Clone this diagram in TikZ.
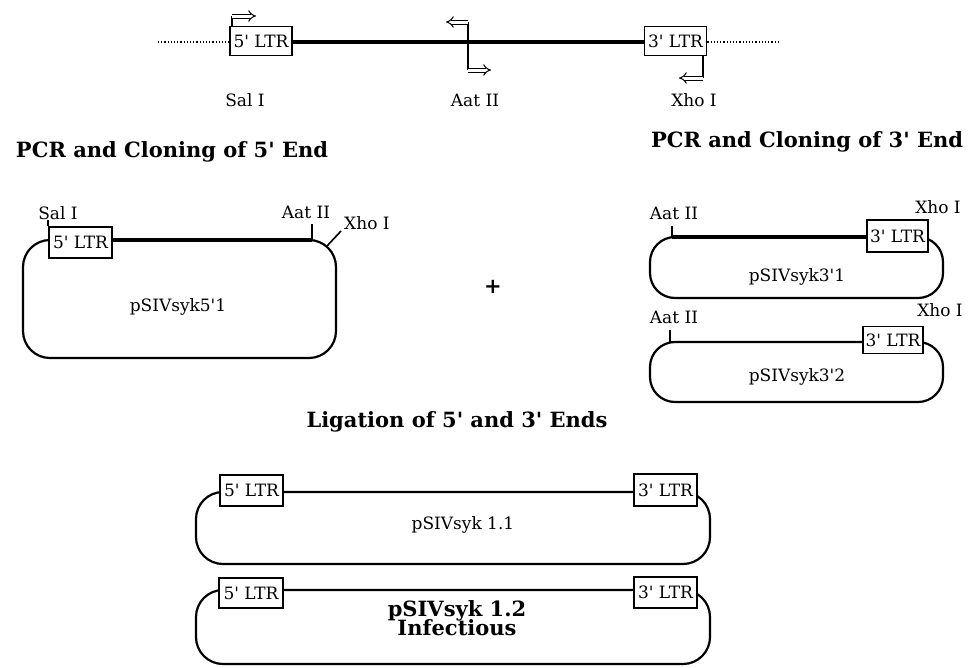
\documentclass[tikz,border=0pt]{standalone}
\usepackage{fontspec}
\setmainfont{DejaVu Serif}
\usetikzlibrary{arrows.meta}
\newcommand{\lblfont}{\fontsize{17}{19}\selectfont}
\newcommand{\headfont}{\fontsize{21}{23}\selectfont\bfseries}
\newcommand{\q}{\textquotesingle}
\begin{document}
\begin{tikzpicture}[x=1pt,y=-1pt,
  ltrbox/.style={draw, line width=1.7pt, fill=white, inner sep=0pt, minimum width=62pt, minimum height=29pt, font=\lblfont},
  lbl/.style={inner sep=0pt, font=\lblfont},
  head/.style={inner sep=0pt, font=\headfont},
  genome/.style={line width=3.8pt},
  plasmid/.style={line width=2.2pt, rounded corners=#1},
  plasmid/.default=27pt,
  tickline/.style={line width=1.6pt},
  dotline/.style={line width=1.2pt, dotted},
  hollow/.style={double, double distance=3pt, line width=1pt, -{Implies[length=5pt]}},
  ]
\useasboundingbox (0,0) rectangle (971,667);

% ---------- top genome ----------
\node[ltrbox] (t5) at (261,41) {5\q{} LTR};
\node[ltrbox] (t3) at (675.5,41) {3\q{} LTR};
\coordinate (dl) at (158,42);
\coordinate (dr) at (780,42);
\draw[dotline] (dl) -- (t5.west |- dl);
\draw[dotline] (t3.east |- dr) -- (dr);
\draw[genome] (t5.east |- dl) -- (t3.west |- dl);

% Sal I arrow
\coordinate (s1) at (232,16);
\coordinate (s2) at (256,16);
\draw[tickline] (t5.north west -| s1) -- (s1);
\draw[hollow] (s1) -- (s2);
% Aat II arrows
\coordinate (a1) at (468,22);
\coordinate (a2) at (468,70);
\coordinate (a3) at (446,22);
\coordinate (a4) at (491,70);
\draw[tickline] (a1) -- (a2);
\draw[hollow] (a1) -- (a3);
\draw[hollow] (a2) -- (a4);
% Xho I arrow
\coordinate (x1) at (703,78);
\coordinate (x2) at (679,78);
\draw[tickline] (t3.south -| x1) -- (x1);
\draw[hollow] (x1) -- (x2);

\node[lbl] (sal) at (245,100) {Sal I};
\node[lbl] (aat) at (475,100) {Aat II};
\node[lbl] (xho) at (694,100) {Xho I};

% ---------- headings ----------
\node[head] (h5) at (172,152) {PCR and Cloning of 5\q{} End};
\node[head] (h3) at (807,142) {PCR and Cloning of 3\q{} End};
\node[head] (hl) at (457,422) {Ligation of 5\q{} and 3\q{} Ends};

% ---------- pSIVsyk5'1 ----------
\draw[plasmid] (200,240) -- (336,240) -- (336,358) -- (23,358) -- (23,240) -- (200,240);
\node[ltrbox, minimum width=63pt, minimum height=31pt] (p5) at (80.5,242.5) {5\q{} LTR};
\coordinate (p5aat) at (312,240);
\draw[genome, line width=3.4pt] (p5.east |- p5aat) -- (p5aat);
\draw[tickline] (p5aat) -- ++(0,-16);
\draw[tickline] (p5.north west) -- ++(0,-6);
\coordinate (p5xa) at (327,246);
\coordinate (p5xb) at (341,231);
\draw[tickline] (p5xa) -- (p5xb);
\node[lbl] (p5sal) at (58,213) {Sal I};
\node[lbl] (p5aatl) at (306,212) {Aat II};
\node[lbl, anchor=west] (p5xho) at (344,223) {Xho I};
\node[lbl] (p5name) at (178,307) {pSIVsyk5\q1};

\node[font=\fontsize{21}{23}\selectfont\bfseries, inner sep=0pt] (plus) at (493,287) {+};

% ---------- pSIVsyk3'1 ----------
\draw[plasmid=25pt] (800,237) -- (943,237) -- (943,298) -- (650,298) -- (650,237) -- (800,237);
\node[ltrbox, minimum width=61pt, minimum height=32pt] (q1) at (897.5,236) {3\q{} LTR};
\coordinate (q1aat) at (672,237);
\draw[genome, line width=3.4pt] (q1aat) -- (q1.west |- q1aat);
\draw[tickline] (q1aat) -- ++(0,-11);
\node[lbl] (q1aatl) at (674,213) {Aat II};
\node[lbl] (q1xho) at (938,207) {Xho I};
\node[lbl] (q1name) at (797,277) {pSIVsyk3\q1};

% ---------- pSIVsyk3'2 ----------
\draw[plasmid=25pt] (800,342) -- (943,342) -- (943,402) -- (650,402) -- (650,342) -- (800,342);
\node[ltrbox, minimum width=60pt, minimum height=27pt] (q2) at (893,340) {3\q{} LTR};
\coordinate (q2aat) at (670,342);
\draw[genome, line width=2.8pt] (q2aat) -- (q2.west |- q2aat);
\draw[tickline] (q2aat) -- ++(0,-12);
\node[lbl] (q2aatl) at (674,317) {Aat II};
\node[lbl] (q2xho) at (940,310) {Xho I};
\node[lbl] (q2name) at (797,377) {pSIVsyk3\q2};

% ---------- pSIVsyk 1.1 ----------
\draw[plasmid] (450,492) -- (710,492) -- (710,564) -- (196,564) -- (196,492) -- (450,492);
\node[ltrbox, minimum width=63pt, minimum height=31pt] (r5) at (251.5,490.5) {5\q{} LTR};
\node[ltrbox, minimum width=63pt, minimum height=32pt] (r3) at (665.5,490) {3\q{} LTR};
\draw[line width=2.4pt] (r5.east |- 0,492) -- (r3.west |- 0,492);
\node[lbl] (rname) at (463,525) {pSIVsyk 1.1};

% ---------- pSIVsyk 1.2 ----------
\draw[plasmid] (450,590) -- (710,590) -- (710,664) -- (196,664) -- (196,590) -- (450,590);
\node[ltrbox, minimum width=64pt, minimum height=30pt] (u5) at (251,593) {5\q{} LTR};
\node[ltrbox, minimum width=63pt, minimum height=31pt] (u3) at (665.5,592.5) {3\q{} LTR};
\draw[line width=2.4pt] (u5.east |- 0,590) -- (u3.west |- 0,590);
\node[head, align=center] (uname) at (457,618) {pSIVsyk 1.2\\[-4pt]Infectious};
\end{tikzpicture}
\end{document}
